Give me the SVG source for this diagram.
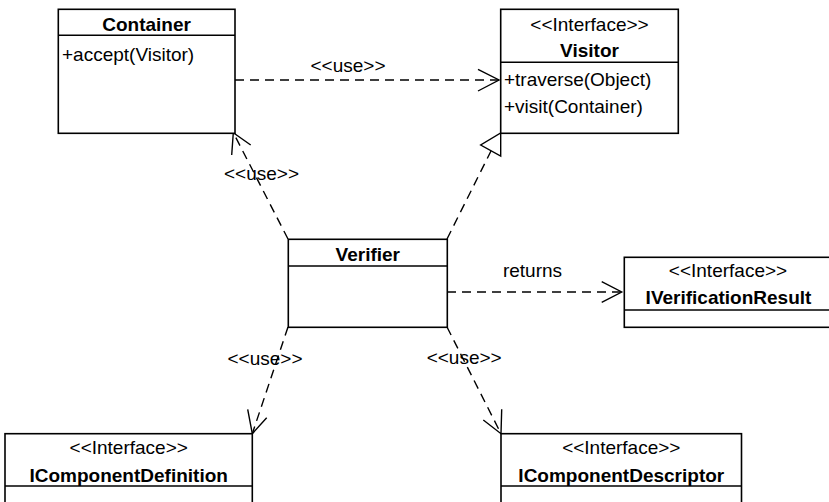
<svg xmlns="http://www.w3.org/2000/svg" width="829" height="502" viewBox="0 0 829 502">
<style>
.box{fill:#fff;stroke:#000;stroke-width:1.6}
.div{stroke:#000;stroke-width:1.6}
text{font-family:"Liberation Sans",Arial,sans-serif;font-size:19px;fill:#000}
.b{font-weight:bold;text-anchor:middle}
.c{text-anchor:middle}
.dash{fill:none;stroke:#000;stroke-width:1.4;stroke-dasharray:9,6}
.head{fill:none;stroke:#000;stroke-width:1.4}
.tri{fill:#fff;stroke:#000;stroke-width:1.4}
</style>
<rect width="829" height="502" fill="#fff"/>
<g id="connectors">
  <path class="dash" d="M235,80 L499,80"/>
  <path class="head" d="M478,69.3 L499,80 L478,91"/>
  <text class="c" x="348" y="72">&lt;&lt;use&gt;&gt;</text>

  <path class="dash" d="M288,239 L233.5,133"/>
  <path class="head" d="M231.7,155 L233.3,132.7 L250.7,145"/>
  <text class="c" x="261.5" y="180">&lt;&lt;use&gt;&gt;</text>

  <path class="dash" d="M447,239 L491,151"/>
  <polygon class="tri" points="500.7,133 500.7,156 480.7,145"/>

  <path class="dash" d="M447,292 L621.7,292"/>
  <path class="head" d="M601.7,281.7 L621.7,292 L601.7,302.3"/>
  <text class="c" x="532.5" y="277">returns</text>

  <path class="dash" d="M288,327 L252.3,433.7"/>
  <path class="head" d="M247.7,409.3 L252.3,433.7 L266.7,417.7"/>
  <text class="c" x="265" y="365">&lt;&lt;use&gt;&gt;</text>

  <path class="dash" d="M447,327 L501,433.7"/>
  <path class="head" d="M501.7,409.3 L501,433.7 L483.3,420"/>
  <text class="c" x="464.2" y="364.3">&lt;&lt;use&gt;&gt;</text>
</g>
<g id="Container">
  <rect class="box" x="58.3" y="9.3" width="176.7" height="124"/>
  <line class="div" x1="58.3" y1="35.3" x2="235" y2="35.3"/>
  <text class="b" x="146.6" y="30.5">Container</text>
  <text x="62" y="61">+accept(Visitor)</text>
</g>
<g id="Visitor">
  <rect class="box" x="500.7" y="9.3" width="177.6" height="124"/>
  <line class="div" x1="500.7" y1="62.3" x2="678.3" y2="62.3"/>
  <text class="c" x="589.5" y="30.5">&lt;&lt;Interface&gt;&gt;</text>
  <text class="b" x="589.5" y="56.5">Visitor</text>
  <text x="504" y="86">+traverse(Object)</text>
  <text x="504" y="112.5">+visit(Container)</text>
</g>
<g id="Verifier">
  <rect class="box" x="288.3" y="239.3" width="159" height="88"/>
  <line class="div" x1="288.3" y1="266" x2="447.3" y2="266"/>
  <text class="b" x="367.8" y="261">Verifier</text>
</g>
<g id="IVerificationResult">
  <rect class="box" x="624.3" y="257.3" width="208" height="70"/>
  <line class="div" x1="624.3" y1="310" x2="832.3" y2="310"/>
  <text class="c" x="728" y="277.3">&lt;&lt;Interface&gt;&gt;</text>
  <text class="b" x="728.5" y="304">IVerificationResult</text>
</g>
<g id="IComponentDefinition">
  <rect class="box" x="5" y="433.7" width="247.3" height="80"/>
  <line class="div" x1="5" y1="486" x2="252.3" y2="486"/>
  <text class="c" x="128.7" y="453.8">&lt;&lt;Interface&gt;&gt;</text>
  <text class="b" x="128.7" y="481.7">IComponentDefinition</text>
</g>
<g id="IComponentDescriptor">
  <rect class="box" x="501" y="433.7" width="240.5" height="80"/>
  <line class="div" x1="501" y1="486" x2="741.5" y2="486"/>
  <text class="c" x="621.3" y="453.8">&lt;&lt;Interface&gt;&gt;</text>
  <text class="b" x="621.3" y="481.7">IComponentDescriptor</text>
</g>
</svg>
